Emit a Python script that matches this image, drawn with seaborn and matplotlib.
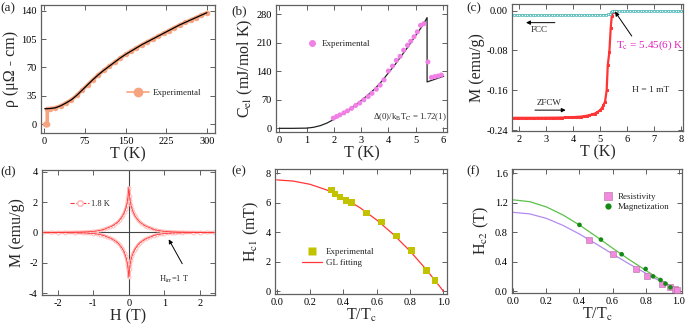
import numpy as np
import pandas as pd
import matplotlib
matplotlib.use("Agg")
import matplotlib.pyplot as plt
from matplotlib.lines import Line2D
import seaborn as sns

# ---------------- data ----------------
# (a) resistivity
T_res = [1.8, 2.5, 3.2, 4.0, 4.8, 5.4, 5.7, 10, 20, 30, 40, 50, 60, 70, 80, 90, 100, 110, 120, 130, 140,
         150, 160, 170, 180, 190, 200, 210, 220, 230, 240, 250, 260, 270, 280, 290, 300]
rho_res = [0, 0, 0, 0, 0, 0, 19.0, 19.2, 20.0, 22.5, 26.0, 30.0, 35.5, 42.0, 48.5, 55.0, 61.0, 66.5, 71.5,
           76.5, 81.5, 86.0, 90.0, 94.0, 98.0, 101.5, 105.0, 108.5, 112.0, 115.5, 119.0, 122.5, 125.5,
           128.5, 131.5, 134.5, 137.5]
T_res_fit = [1, 6, 10, 20, 30, 40, 50, 60, 70, 80, 90, 100, 110, 120, 130, 140, 150, 160, 170, 180, 190,
             200, 210, 220, 230, 240, 250, 260, 270, 280, 290, 300]
rho_res_fit = [19.0, 19.0, 19.2, 20.0, 22.5, 26.0, 30.0, 35.5, 42.0, 48.5, 55.0, 61.0, 66.5, 71.5, 76.5,
               81.5, 86.0, 90.0, 94.0, 98.0, 101.5, 105.0, 108.5, 112.0, 115.5, 119.0, 122.5, 125.5,
               128.5, 131.5, 134.5, 137.5]

# (b) electronic specific heat
T_cel = [1.98, 2.1, 2.22, 2.37, 2.5, 2.65, 2.8, 2.95, 3.1, 3.26, 3.4, 3.56, 3.7, 3.84, 4.0, 4.15, 4.29,
         4.43, 4.56, 4.7, 4.82, 4.94, 5.06, 5.18, 5.3, 5.45, 5.58, 5.70, 5.82, 5.94]
C_cel = [25, 29, 33, 38, 43, 49, 56, 62, 70, 78, 86, 96, 106, 119, 141, 153, 167, 177, 192, 204, 214,
         225, 237, 253, 257, 163, 125, 127, 128.5, 131]
T_cel_fit = [0, 0.5, 1.0, 1.25, 1.5, 1.75, 2.0, 2.25, 2.5, 2.75, 3.0, 3.25, 3.5, 3.75, 4.0, 4.25, 4.5,
             4.75, 5.0, 5.25, 5.42, 5.42, 6.03]
C_cel_fit = [0, 0, 0.5, 2.5, 6.5, 13, 22, 32, 43, 55, 68, 82, 97, 115, 136, 157, 180, 203, 228, 252, 272,
             114, 128]

# (c) magnetization vs T
T_fcc = [1.8, 1.9, 2.0, 2.1, 2.2, 2.3, 2.4, 2.5, 2.6, 2.7, 2.8, 2.9, 3.0, 3.1, 3.2, 3.3, 3.4, 3.5, 3.6,
         3.7, 3.8, 3.9, 4.0, 4.1, 4.2, 4.3, 4.4, 4.5, 4.6, 4.7, 4.8, 4.9, 5.0, 5.1, 5.2, 5.3, 5.35, 5.4,
         5.45, 5.5, 5.6, 5.7, 5.8, 5.9, 6.0, 6.1, 6.2, 6.3, 6.4, 6.5, 6.6, 6.7, 6.8, 6.9, 7.0, 7.1, 7.2,
         7.3, 7.4, 7.5, 7.6, 7.7, 7.8, 7.9, 8.0]
M_fcc = [-0.0085, -0.0085, -0.0085, -0.0085, -0.0085, -0.0085, -0.0085, -0.0085, -0.0085, -0.0085,
         -0.0085, -0.0085, -0.0085, -0.0085, -0.0085, -0.0085, -0.0085, -0.0085, -0.0085, -0.0085,
         -0.0085, -0.0085, -0.0085, -0.0085, -0.0085, -0.0085, -0.0084, -0.0084, -0.0084, -0.0083,
         -0.0083, -0.0082, -0.0081, -0.0080, -0.0077, -0.0072, -0.0060, -0.0035, -0.0012, -0.0006,
         -0.0006, -0.0006, -0.0006, -0.0006, -0.0006, -0.0006, -0.0006, -0.0006, -0.0006, -0.0006,
         -0.0006, -0.0006, -0.0006, -0.0006, -0.0006, -0.0006, -0.0006, -0.0006, -0.0006, -0.0006,
         -0.0006, -0.0006, -0.0006, -0.0006, -0.0006]
T_zfc = [1.8, 1.9, 2.0, 2.1, 2.2, 2.3, 2.4, 2.5, 2.6, 2.7, 2.8, 2.9, 3.0, 3.1, 3.2, 3.3, 3.4, 3.5, 3.6,
         3.7, 3.8, 3.9, 4.0, 4.1, 4.2, 4.3, 4.4, 4.5, 4.6, 4.7, 4.8, 4.9, 5.0, 5.06, 5.12, 5.18, 5.24,
         5.28, 5.34, 5.39, 5.43, 5.47, 5.52, 5.6]
M_zfc = [-0.2155, -0.2155, -0.2155, -0.2155, -0.2155, -0.2155, -0.2155, -0.2155, -0.2155, -0.2154,
         -0.2154, -0.2154, -0.2153, -0.2153, -0.2152, -0.2152, -0.2151, -0.2150, -0.2149, -0.2148,
         -0.2146, -0.2144, -0.2141, -0.2138, -0.2134, -0.2129, -0.2122, -0.2113, -0.2102, -0.2088,
         -0.2068, -0.2040, -0.2000, -0.1960, -0.1900, -0.1830, -0.1600, -0.1100, -0.0825, -0.0350,
         -0.0100, -0.0030, -0.0010, -0.0006]

# (d) M-H loop at 1.8 K
H_up = [-2.4, -2.2, -2.0, -1.8, -1.5, -1.3, -1.2, -1.1, -1.0, -0.9, -0.8, -0.7, -0.6, -0.52, -0.45,
        -0.38, -0.3, -0.25, -0.2, -0.16, -0.12, -0.09, -0.06, -0.04, -0.02, 0.0,
        0.02, 0.04, 0.06, 0.09, 0.12, 0.16, 0.2, 0.25, 0.3, 0.38, 0.45, 0.52, 0.6, 0.7, 0.8, 0.9, 1.0,
        1.1, 1.2, 1.3, 1.5, 1.8, 2.0, 2.2, 2.4]
M_up = [0.0, 0.0, 0.005, 0.01, 0.02, 0.03, 0.04, 0.055, 0.07, 0.1, 0.14, 0.2, 0.3, 0.37, 0.45,
        0.56, 0.7, 0.84, 1.0, 1.15, 1.35, 1.55, 1.8, 2.05, 2.4, 2.95,
        2.4, 2.05, 1.8, 1.55, 1.35, 1.15, 1.0, 0.84, 0.7, 0.56, 0.45, 0.37, 0.3, 0.2, 0.14, 0.1, 0.07,
        0.055, 0.04, 0.03, 0.02, 0.01, 0.005, 0.0, 0.0]
H_dn = H_up
M_dn = [0.0, 0.0, -0.005, -0.01, -0.02, -0.03, -0.04, -0.055, -0.07, -0.1, -0.14, -0.2, -0.3, -0.37, -0.45,
        -0.56, -0.7, -0.84, -1.0, -1.15, -1.35, -1.55, -1.8, -2.05, -2.4, -2.95,
        -2.4, -2.05, -1.8, -1.55, -1.35, -1.15, -1.0, -0.84, -0.7, -0.56, -0.45, -0.37, -0.3, -0.2, -0.14,
        -0.1, -0.07, -0.055, -0.04, -0.03, -0.02, -0.01, -0.005, 0.0, 0.0]

# (e) Hc1
t_hc1 = [0.33, 0.35, 0.38, 0.415, 0.45, 0.54, 0.63, 0.72, 0.81, 0.90, 0.95]
hc1 = [6.85, 6.6, 6.4, 6.15, 6.0, 5.3, 4.7, 3.75, 2.75, 1.4, 0.7]
t_hc1_fit = [0.0, 0.1, 0.2, 0.3, 0.4, 0.5, 0.6, 0.7, 0.8, 0.9, 1.0]
hc1_fit = [7.55, 7.47, 7.25, 6.87, 6.34, 5.66, 4.83, 3.85, 2.72, 1.43, 0.0]

# (f) Hc2
t_res = [0.46, 0.60, 0.74, 0.81, 0.90, 0.95, 0.975, 0.99]
hc2_res = [0.70, 0.50, 0.30, 0.20, 0.10, 0.05, 0.03, 0.01]
t_mag = [0.40, 0.53, 0.655, 0.80, 0.845, 0.89, 0.92, 0.95]
hc2_mag = [0.90, 0.70, 0.50, 0.30, 0.20, 0.15, 0.10, 0.05]
t_fit = [0.0, 0.1, 0.2, 0.3, 0.4, 0.5, 0.6, 0.7, 0.8, 0.9, 1.0]
hc2_mag_fit = [1.24, 1.215, 1.144, 1.035, 0.898, 0.744, 0.584, 0.428, 0.282, 0.138, 0.0]
hc2_res_fit = [1.07, 1.049, 0.988, 0.893, 0.775, 0.642, 0.504, 0.369, 0.243, 0.119, 0.0]

# ---------------- style ----------------
sns.set_style("ticks")
plt.rcParams['font.family'] = ['Liberation Serif', 'DejaVu Serif']
plt.rcParams['mathtext.fontset'] = 'stix'
plt.rcParams['axes.unicode_minus'] = False

TICK_FS = 7.5
LAB_FS = 11.5
SPINE = '#606060'

fig = plt.figure(figsize=(6.85, 3.27), dpi=100)
W, H = 685.0, 327.0


def add_ax(x0, y0, x1, y1):
    return fig.add_axes([x0 / W, 1 - y1 / H, (x1 - x0) / W, (y1 - y0) / H])


def style(ax):
    for s in ax.spines.values():
        s.set_color(SPINE)
        s.set_linewidth(0.9)
    ax.tick_params(direction='in', top=True, right=True, length=3.5, width=0.7,
                   labelsize=TICK_FS, colors='black', pad=3)
    ax.tick_params(axis='both', color=SPINE)


def lp(ax, x, y, **kw):
    df = pd.DataFrame({'x': x, 'y': y})
    sns.lineplot(data=df, x='x', y='y', ax=ax, sort=False, estimator=None, **kw)


# ---- (a) ----
ax = add_ax(41, 5, 215, 133)
orange = '#F6A47F'
lp(ax, T_res, rho_res, color=orange, lw=2.6, marker='o', ms=3.2, mec=orange, mfc=orange)
lp(ax, T_res_fit, rho_res_fit, color='black', lw=0.9)
ax.set_xlim(-6, 315)
ax.set_ylim(-11, 147)
ax.set_xticks([0, 75, 150, 225, 300])
ax.set_yticks([0, 35, 70, 105, 140])
ax.set_xlabel('T (K)', fontsize=LAB_FS, labelpad=0)
ax.set_ylabel('ρ (μΩ - cm)', fontsize=LAB_FS, labelpad=2)
h = Line2D([], [], color=orange, lw=1.2, marker='o', ms=6, mec=orange, mfc=orange)
ax.legend([h], ['Experimental'], loc='center left', bbox_to_anchor=(0.47, 0.315), frameon=False,
          fontsize=6.5, handlelength=2.4, handletextpad=0.4, borderpad=0)
style(ax)

# ---- (b) ----
ax = add_ax(276, 5, 447, 132)
violet = '#F07FE6'
ax.scatter(T_cel, C_cel, s=13, color=violet, edgecolor='none', zorder=3)
lp(ax, T_cel_fit, C_cel_fit, color='#222222', lw=0.9)
ax.set_xlim(-0.12, 6.15)
ax.set_ylim(-9, 303)
ax.set_xticks([0, 1, 2, 3, 4, 5, 6])
ax.set_yticks([0, 70, 140, 210, 280])
ax.set_xlabel('T (K)', fontsize=LAB_FS, labelpad=0)
ax.set_ylabel(r'C$_{\mathrm{el}}$ (mJ/mol K)', fontsize=LAB_FS, labelpad=1)
h = Line2D([], [], color=violet, lw=0, marker='o', ms=5, mec='none')
ax.legend([h], ['Experimental'], loc='center left', bbox_to_anchor=(0.155, 0.693), frameon=False,
          fontsize=6.5, handlelength=1.0, handletextpad=0.6, borderpad=0)
ax.text(3.44, 27, r'Δ(0)/k$_{\mathrm{B}}$T$_{\mathrm{C}}$ = 1.72(1)', fontsize=6.3, ha='left', va='center')
style(ax)

# ---- (c) ----
ax = add_ax(512, 4, 683, 131)
teal = '#3FB3B3'
red = '#FF3535'
lp(ax, T_zfc, M_zfc, color=red, lw=1.6, marker='s', ms=1.8, mec=red, mfc=red)
lp(ax, T_fcc, M_fcc, color=teal, lw=0.6, marker='s', ms=1.9, mec=teal, mfc='white', mew=0.5)
ax.set_xlim(1.73, 8.07)
ax.set_ylim(-0.242, 0.0135)
ax.set_xticks([2, 3, 4, 5, 6, 7, 8])
ax.set_yticks([0.0, -0.08, -0.16, -0.24])
ax.set_yticklabels(['0.00', '-0.08', '-0.16', '-0.24'])
ax.set_xlabel('T (K)', fontsize=LAB_FS, labelpad=0)
ax.set_ylabel('M (emu/g)', fontsize=LAB_FS, labelpad=1)
ap = dict(arrowstyle='-|>', lw=0.7, color='black', mutation_scale=6, shrinkA=0, shrinkB=0)
ax.text(2.75, -0.038, 'FCC', fontsize=6.5, ha='center', va='center')
ax.annotate('', xy=(2.25, -0.024), xytext=(3.32, -0.024), arrowprops=ap)
ax.text(3.1, -0.185, 'ZFCW', fontsize=6.5, ha='center', va='center')
ax.annotate('', xy=(3.72, -0.2), xytext=(2.58, -0.2), arrowprops=ap)
ax.annotate('', xy=(5.55, -0.002), xytext=(6.17, -0.051), arrowprops=ap)
ax.text(5.6, -0.069, r'T$_{\mathrm{c}}$ = 5.45(6) K', fontsize=8, color='#E020C0', ha='left', va='center')
ax.text(6.17, -0.16, 'H = 1 mT', fontsize=6.8, ha='left', va='center')
style(ax)

# ---- (d) ----
ax = add_ax(42, 170, 215, 295)
pink = '#FFB4B4'
ax.axhline(0, color='#444444', lw=0.8, zorder=1)
ax.axvline(0, color='#444444', lw=0.8, zorder=1)
lp(ax, H_up, M_up, color=pink, lw=2.2, marker='o', ms=2.2, mec=pink, mfc='white', mew=0.6)
lp(ax, H_dn, M_dn, color=pink, lw=2.2, marker='o', ms=2.2, mec=pink, mfc='white', mew=0.6)
lp(ax, H_up, M_up, color=red, lw=0.6)
lp(ax, H_dn, M_dn, color=red, lw=0.6)
ax.set_xlim(-2.44, 2.42)
ax.set_ylim(-4.1, 4.1)
ax.set_xticks([-2, -1, 0, 1, 2])
ax.set_yticks([-4, -2, 0, 2, 4])
ax.set_xlabel('H (T)', fontsize=LAB_FS, labelpad=0)
ax.set_ylabel('M (emu/g)', fontsize=LAB_FS, labelpad=3)
h = Line2D([], [], color=red, lw=0.8, ls='--', marker='o', ms=4, mec=pink, mfc='white')
ax.legend([h], ['1.8 K'], loc='center left', bbox_to_anchor=(0.14, 0.727), frameon=False,
          fontsize=6, handlelength=2.2, handletextpad=0.3, borderpad=0)
ax.annotate('', xy=(1.12, -0.45), xytext=(1.5, -2.05), arrowprops=ap)
ax.text(0.86, -3.07, r'H$_{\mathrm{irr}}$=1 T', fontsize=6, ha='left', va='center')
style(ax)

# ---- (e) ----
ax = add_ax(275, 169, 447, 294)
olive = '#C2C200'
lp(ax, t_hc1_fit, hc1_fit, color=red, lw=0.9)
ax.scatter(t_hc1, hc1, s=22, marker='s', color=olive, edgecolor='none', zorder=3)
ax.set_xlim(-0.01, 1.022)
ax.set_ylim(-0.2, 8.29)
ax.set_xticks([0.0, 0.2, 0.4, 0.6, 0.8, 1.0])
ax.set_xticklabels(['0.0', '0.2', '0.4', '0.6', '0.8', '1.0'])
ax.set_yticks([0, 2, 4, 6, 8])
ax.set_xlabel(r'T/T$_{\mathrm{c}}$', fontsize=LAB_FS, labelpad=0)
ax.set_ylabel(r'H$_{\mathrm{c1}}$ (mT)', fontsize=LAB_FS, labelpad=3)
h1 = Line2D([], [], color=olive, lw=0, marker='s', ms=5.5, mec='none')
h2 = Line2D([], [], color=red, lw=0.9)
ax.legend([h1, h2], ['Experimental', 'GL fitting'], loc='center left', bbox_to_anchor=(0.13, 0.29),
          frameon=False, fontsize=6.5, handlelength=2.2, handletextpad=0.5, borderpad=0,
          labelspacing=0.3)
style(ax)

# ---- (f) ----
ax = add_ax(512, 169, 682, 293)
green_l = '#5CC04A'
purple_l = '#B48AF0'
mag_c = '#138A13'
res_c = '#F28ADD'
lp(ax, t_fit, hc2_mag_fit, color=green_l, lw=0.9)
lp(ax, t_fit, hc2_res_fit, color=purple_l, lw=0.9)
ax.scatter(t_res, hc2_res, s=17, marker='s', color=res_c, edgecolor='#B070A0', linewidth=0.4, zorder=3)
ax.scatter(t_mag, hc2_mag, s=11, marker='o', color=mag_c, edgecolor='none', zorder=4)
ax.set_xlim(-0.008, 1.02)
ax.set_ylim(-0.027, 1.66)
ax.set_xticks([0.0, 0.2, 0.4, 0.6, 0.8, 1.0])
ax.set_xticklabels(['0.0', '0.2', '0.4', '0.6', '0.8', '1.0'])
ax.set_yticks([0.0, 0.4, 0.8, 1.2, 1.6])
ax.set_yticklabels(['0.0', '0.4', '0.8', '1.2', '1.6'])
ax.set_xlabel(r'T/T$_{\mathrm{c}}$', fontsize=LAB_FS, labelpad=0)
ax.set_ylabel(r'H$_{\mathrm{c2}}$ (T)', fontsize=LAB_FS, labelpad=3)
h1 = Line2D([], [], color=res_c, lw=0, marker='s', ms=5.5, mec='#B070A0', mew=0.4)
h2 = Line2D([], [], color=mag_c, lw=0, marker='o', ms=4.5, mec='none')
ax.legend([h1, h2], ['Resistivity', 'Magnetization'], loc='center left', bbox_to_anchor=(0.51, 0.735),
          frameon=False, fontsize=6.5, handlelength=1.0, handletextpad=0.6, borderpad=0,
          labelspacing=0.2)
style(ax)

# panel labels
for lab, x, y in [('(a)', 0, 8), ('(b)', 231, 11), ('(c)', 466, 8),
                  ('(d)', 0, 171), ('(e)', 231, 171), ('(f)', 466, 171)]:
    fig.text(x / W, 1 - y / H, lab, fontsize=9.5, ha='left', va='center')

fig.savefig('out.png', dpi=100)
